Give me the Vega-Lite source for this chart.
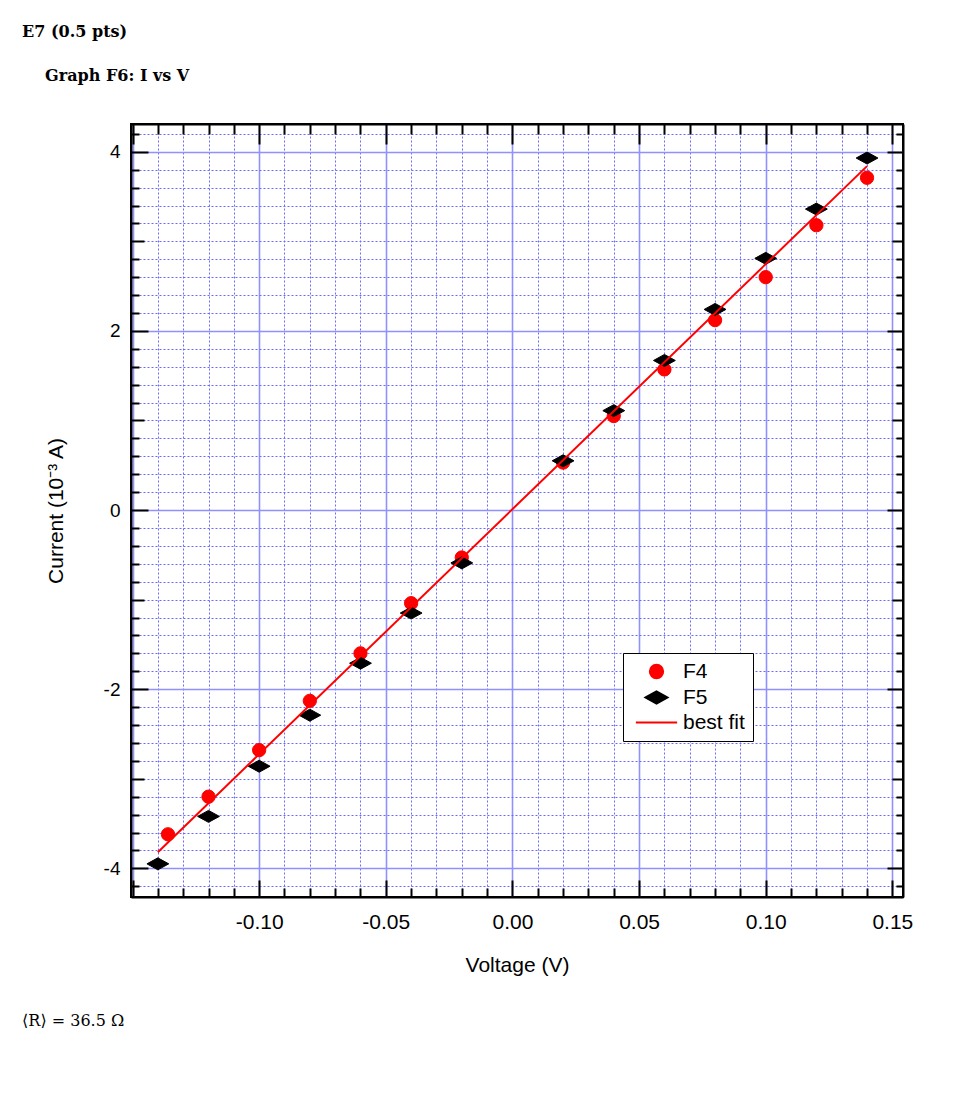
{
  "$schema": "https://vega.github.io/schema/vega-lite/v6.json",
  "padding": {"left": 22, "top": 24, "right": 10, "bottom": 10},
  "background": "white",
  "title": {"text": "E7 (0.5 pts)", "anchor": "start", "font": "DejaVu Serif", "fontSize": 16, "fontWeight": "bold", "color": "black", "offset": 27},
  "config": {
    "view": {"stroke": "black", "strokeWidth": 2},
    "axis": {"domainColor": "black", "domainWidth": 2, "tickColor": "black", "tickWidth": 2, "labelFont": "Liberation Sans", "titleFont": "Liberation Sans", "labelColor": "black", "titleColor": "black", "titleFontWeight": "normal", "labelOverlap": false, "labelFlush": false}
  },
  "vconcat": [
    {
      "title": {"text": "⟨R⟩ = 36.5 Ω", "orient": "bottom", "anchor": "start", "font": "DejaVu Serif", "fontSize": 16, "fontWeight": "normal", "color": "black", "dx": -22, "offset": 37},
      "vconcat": [
        {
          "title": {"text": "Graph F6: I vs V", "anchor": "start", "font": "DejaVu Serif", "fontSize": 16, "fontWeight": "bold", "color": "black", "offset": 39},
          "width": 772,
          "height": 773,
          "resolve": {"axis": {"x": "independent", "y": "independent"}},
          "layer": [
            {
              "data": {"values": [
                {"V": -0.136, "I": -3.62, "series": "F4"},
                {"V": -0.12, "I": -3.2, "series": "F4"},
                {"V": -0.1, "I": -2.68, "series": "F4"},
                {"V": -0.08, "I": -2.13, "series": "F4"},
                {"V": -0.06, "I": -1.6, "series": "F4"},
                {"V": -0.04, "I": -1.04, "series": "F4"},
                {"V": -0.02, "I": -0.53, "series": "F4"},
                {"V": 0.02, "I": 0.53, "series": "F4"},
                {"V": 0.04, "I": 1.05, "series": "F4"},
                {"V": 0.06, "I": 1.57, "series": "F4"},
                {"V": 0.08, "I": 2.12, "series": "F4"},
                {"V": 0.1, "I": 2.6, "series": "F4"},
                {"V": 0.12, "I": 3.18, "series": "F4"},
                {"V": 0.14, "I": 3.71, "series": "F4"},
                {"V": -0.14, "I": -3.95, "series": "F5"},
                {"V": -0.12, "I": -3.42, "series": "F5"},
                {"V": -0.1, "I": -2.86, "series": "F5"},
                {"V": -0.08, "I": -2.29, "series": "F5"},
                {"V": -0.06, "I": -1.71, "series": "F5"},
                {"V": -0.04, "I": -1.15, "series": "F5"},
                {"V": -0.02, "I": -0.59, "series": "F5"},
                {"V": 0.02, "I": 0.55, "series": "F5"},
                {"V": 0.04, "I": 1.11, "series": "F5"},
                {"V": 0.06, "I": 1.67, "series": "F5"},
                {"V": 0.08, "I": 2.24, "series": "F5"},
                {"V": 0.1, "I": 2.81, "series": "F5"},
                {"V": 0.12, "I": 3.36, "series": "F5"},
                {"V": 0.14, "I": 3.93, "series": "F5"}
              ]},
              "mark": {"type": "point", "filled": true, "size": 177, "opacity": 1, "strokeWidth": 1},
              "encoding": {
                "x": {"field": "V", "type": "quantitative",
                  "scale": {"domain": [-0.1506, 0.1542], "nice": false, "zero": false},
                  "axis": {"orient": "bottom", "title": "Voltage (V)", "titleFontSize": 21, "titlePadding": 14, "labelFontSize": 21, "labelPadding": 31,
                    "values": [-0.15,-0.14,-0.13,-0.12,-0.11,-0.1,-0.09,-0.08,-0.07,-0.06,-0.05,-0.04,-0.03,-0.02,-0.01,0,0.01,0.02,0.03,0.04,0.05,0.06,0.07,0.08,0.09,0.1,0.11,0.12,0.13,0.14,0.15],
                    "labelExpr": "abs(round(datum.value*100))%5==0 && round(datum.value*100) > -15 ? replace(format(datum.value,'.2f'),'\u2212','-') : ''",
                    "tickSize": {"condition": {"test": "abs(round(datum.value*100))%5==0", "value": -17}, "value": -9},
                    "grid": true,
                    "gridColor": {"condition": {"test": "abs(round(datum.value*100))%5==0", "value": "#9090ff"}, "value": "#6a6aff"},
                    "gridDash": {"condition": {"test": "abs(round(datum.value*100))%5==0", "value": [1, 0]}, "value": [2, 2]},
                    "gridWidth": {"condition": {"test": "abs(round(datum.value*100))%5==0", "value": 1.6}, "value": 1}
                  }},
                "y": {"field": "I", "type": "quantitative",
                  "scale": {"domain": [-4.32, 4.31], "nice": false, "zero": false},
                  "axis": {"orient": "left", "title": "Current (10⁻³ A)", "titleFontSize": 21, "titlePadding": 37, "labelFontSize": 19, "labelPadding": 28,
                    "values": [-4.2,-4,-3.8,-3.6,-3.4,-3.2,-3,-2.8,-2.6,-2.4,-2.2,-2,-1.8,-1.6,-1.4,-1.2,-1,-0.8,-0.6,-0.4,-0.2,0,0.2,0.4,0.6,0.8,1,1.2,1.4,1.6,1.8,2,2.2,2.4,2.6,2.8,3,3.2,3.4,3.6,3.8,4,4.2],
                    "labelExpr": "abs(round(datum.value*5))%10==0 ? replace(format(round(datum.value),'d'),'\u2212','-') : ''",
                    "tickSize": {"condition": [{"test": "abs(round(datum.value*5))%10==0", "value": -17}, {"test": "abs(round(datum.value*5))%5==0", "value": -13}], "value": -8},
                    "grid": true,
                    "gridColor": {"condition": {"test": "abs(round(datum.value*5))%10==0", "value": "#9090ff"}, "value": "#6a6aff"},
                    "gridDash": {"condition": {"test": "abs(round(datum.value*5))%10==0", "value": [1, 0]}, "value": [2, 2]},
                    "gridWidth": {"condition": {"test": "abs(round(datum.value*5))%10==0", "value": 1.6}, "value": 1}
                  }},
                "fill": {"field": "series", "type": "nominal",
                  "scale": {"domain": ["F4", "F5", "best fit"], "range": ["#ff0000", "#000000", "#ff0000"]},
                  "legend": {"title": null, "orient": "none", "legendX": 492, "legendY": 529, "fillColor": "white", "strokeColor": "black", "padding": 8, "cornerRadius": 0, "labelFont": "Liberation Sans", "labelFontSize": 21, "labelColor": "black", "symbolSize": 177, "symbolOffset": 15, "labelOffset": 16, "rowPadding": 3, "symbolStrokeWidth": 2,
                    "encode": {"legend": {"update": {"strokeWidth": {"value": 2}}}}}},
                "stroke": {"field": "series", "type": "nominal",
                  "scale": {"domain": ["F4", "F5", "best fit"], "range": ["#ff0000", "#000000", "#ff0000"]},
                  "legend": {"title": null, "orient": "none", "legendX": 492, "legendY": 529, "fillColor": "white", "strokeColor": "black", "padding": 8, "cornerRadius": 0, "labelFont": "Liberation Sans", "labelFontSize": 21, "labelColor": "black", "symbolSize": 177, "symbolOffset": 15, "labelOffset": 16, "rowPadding": 3, "symbolStrokeWidth": 2,
                    "encode": {"legend": {"update": {"strokeWidth": {"value": 2}}}}}},
                "shape": {"field": "series", "type": "nominal",
                  "scale": {"domain": ["F4", "F5", "best fit"], "range": ["circle", "M-1.64,0L0,-0.9L1.64,0L0,0.9Z", "M-3.1,0L3.1,0"]},
                  "legend": {"title": null, "orient": "none", "legendX": 492, "legendY": 529, "fillColor": "white", "strokeColor": "black", "padding": 8, "cornerRadius": 0, "labelFont": "Liberation Sans", "labelFontSize": 21, "labelColor": "black", "symbolSize": 177, "symbolOffset": 15, "labelOffset": 16, "rowPadding": 3, "symbolStrokeWidth": 2,
                    "encode": {"legend": {"update": {"strokeWidth": {"value": 2}}}}}}
              }
            },
            {
              "data": {"values": [
                {"V": -0.14, "I": -3.82},
                {"V": 0.14, "I": 3.84}
              ]},
              "mark": {"type": "line", "color": "#ff0000", "strokeWidth": 2},
              "encoding": {
                "x": {"field": "V", "type": "quantitative",
                  "axis": {"orient": "top", "title": null, "labels": false, "grid": false,
                    "values": [-0.15,-0.14,-0.13,-0.12,-0.11,-0.1,-0.09,-0.08,-0.07,-0.06,-0.05,-0.04,-0.03,-0.02,-0.01,0,0.01,0.02,0.03,0.04,0.05,0.06,0.07,0.08,0.09,0.1,0.11,0.12,0.13,0.14,0.15],
                    "tickSize": {"condition": {"test": "abs(round(datum.value*100))%5==0", "value": -20}, "value": -10}
                  }},
                "y": {"field": "I", "type": "quantitative",
                  "axis": {"orient": "right", "title": null, "labels": false, "grid": false,
                    "values": [-4.2,-4,-3.8,-3.6,-3.4,-3.2,-3,-2.8,-2.6,-2.4,-2.2,-2,-1.8,-1.6,-1.4,-1.2,-1,-0.8,-0.6,-0.4,-0.2,0,0.2,0.4,0.6,0.8,1,1.2,1.4,1.6,1.8,2,2.2,2.4,2.6,2.8,3,3.2,3.4,3.6,3.8,4,4.2],
                    "tickSize": {"condition": [{"test": "abs(round(datum.value*5))%10==0", "value": -16}, {"test": "abs(round(datum.value*5))%5==0", "value": -11}], "value": -7}
                  }}
              }
            }
          ]
        }
      ]
    }
  ]
}
